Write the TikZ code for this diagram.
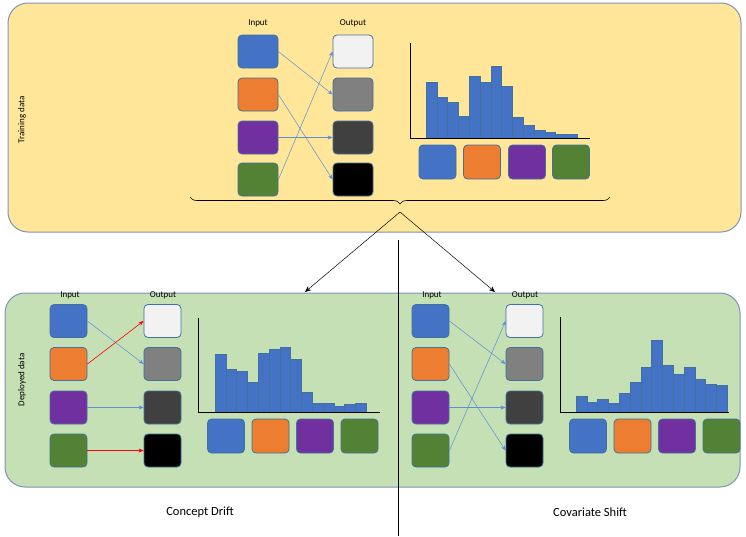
\documentclass[tikz,border=0pt]{standalone}
\usepackage{fontspec}
\setmainfont{Carlito}
\usetikzlibrary{arrows.meta,decorations.pathreplacing}
\definecolor{cblue}{HTML}{4472C4}
\definecolor{corange}{HTML}{ED7D31}
\definecolor{cpurple}{HTML}{7030A0}
\definecolor{cgreen}{HTML}{548235}
\definecolor{cwhite}{HTML}{F2F2F2}
\definecolor{cgray}{HTML}{808080}
\definecolor{cdark}{HTML}{404040}
\definecolor{edgeblue}{HTML}{41719C}
\definecolor{panelyellow}{HTML}{FFE699}
\definecolor{panelgreen}{HTML}{C5E0B4}
\definecolor{panelline}{HTML}{7F93B8}
\definecolor{mapblue}{HTML}{5B8FD8}
\tikzset{
  cell/.style={draw=edgeblue, line width=0.8pt, rounded corners=4pt, minimum width=40pt, minimum height=33pt, inner sep=0pt},
  smallcell/.style={cell, minimum width=37pt},
  catcell/.style={cell, minimum width=37pt, minimum height=34pt},
  panel/.style={draw=panelline, line width=1pt, rounded corners=20pt},
  lbl/.style={font=\fontsize{9}{10}\selectfont},
  map/.style={draw=mapblue, line width=0.5pt, -{Stealth[length=5pt,width=4pt]}},
  redmap/.style={draw=red, line width=0.6pt, -{Stealth[length=5pt,width=4pt]}},
  bar/.style={fill=cblue, draw=edgeblue, line width=0.4pt},
}
% histogram: left x, baseline y, list of bar tops
\newcommand\hist[3]{%
  \foreach \t [count=\i from 0] in {#3}
    \draw[bar] ({#1+\i*10.8},#2) rectangle ({#1+(\i+1)*10.8},\t);
}

\begin{document}
\begin{tikzpicture}[x=1pt,y=-1pt, >={Stealth[length=6pt,width=5pt]}]
\useasboundingbox (0,0) rectangle (746,536);
% panels
\draw[panel, fill=panelyellow] (8,3) rectangle (741,232);
\draw[panel, fill=panelgreen] (5,293) rectangle (740,487);
\draw[line width=0.9pt] (398,240) -- (398,536);
\node[lbl, rotate=90] (train) at (22,120) {Training data};
\node[lbl, rotate=90] (deploy) at (22,380) {Deployed data};
\node[font=\fontsize{12.5}{14}\selectfont] (concept) at (200,512) {Concept Drift};
\node[font=\fontsize{12.5}{14}\selectfont] (covar) at (590,512) {Covariate Shift};

% training data
\node[lbl] (tin) at (258,23) {Input};
\node[lbl] (tout) at (353,23) {Output};
\node[cell, fill=cblue] (ti1) at (258,51.5) {};
\node[cell, fill=corange] (ti2) at (258,94.5) {};
\node[cell, fill=cpurple] (ti3) at (258,137.5) {};
\node[cell, fill=cgreen] (ti4) at (258,179.5) {};
\node[cell, fill=cwhite] (to1) at (353,51.5) {};
\node[cell, fill=cgray] (to2) at (353,94.5) {};
\node[cell, fill=cdark] (to3) at (353,137.5) {};
\node[cell, fill=black] (to4) at (353,179.5) {};
\draw[map] (ti1.east) -- (to2.west);
\draw[map] (ti2.east) -- (to4.west);
\draw[map] (ti3.east) -- (to3.west);
\draw[map] (ti4.east) -- (to1.west);
\hist{426}{138}{82,97,102,116,76,82,66,86,117,125,130,132,134,134}
\draw[line width=0.9pt] (410,43) -- (410,138) -- (590,138);
\node[catcell, fill=cblue] (tc1) at (437.5,162) {};
\node[catcell, fill=corange] (tc2) at (482,162) {};
\node[catcell, fill=cpurple] (tc3) at (527,162) {};
\node[catcell, fill=cgreen] (tc4) at (571,162) {};
\draw[decorate, decoration={brace, mirror, amplitude=7pt, aspect=0.5}, line width=0.6pt] (190,197) -- (610,197);
\coordinate (tip) at (400,212);
\coordinate (left) at (305,292);
\coordinate (right) at (495,292);
\draw[->, line width=0.5pt] (tip) -- (left);
\draw[->, line width=0.5pt] (tip) -- (right);

% concept drift
\node[lbl] (lin) at (70,295) {Input};
\node[lbl] (lout) at (163,295) {Output};
\node[smallcell, fill=cblue] (li1) at (68.5,321) {};
\node[smallcell, fill=corange] (li2) at (68.5,364) {};
\node[smallcell, fill=cpurple] (li3) at (68.5,407.5) {};
\node[smallcell, fill=cgreen] (li4) at (68.5,450.5) {};
\node[smallcell, fill=cwhite] (lo1) at (162.5,321) {};
\node[smallcell, fill=cgray] (lo2) at (162.5,364) {};
\node[smallcell, fill=cdark] (lo3) at (162.5,407.5) {};
\node[smallcell, fill=black] (lo4) at (162.5,450.5) {};
\draw[map] (li1.east) -- (lo2.west);
\draw[redmap] (li2.east) -- (lo1.west);
\draw[map] (li3.east) -- (lo3.west);
\draw[redmap] (li4.east) -- (lo4.west);
\hist{215}{412}{354,369,371,382,353,349,347,359,392,403,403,406,404,403}
\draw[line width=0.9pt] (198,318) -- (198,412) -- (380,412);
\node[catcell, fill=cblue] (lc1) at (226,436) {};
\node[catcell, fill=corange] (lc2) at (270.5,436) {};
\node[catcell, fill=cpurple] (lc3) at (315,436) {};
\node[catcell, fill=cgreen] (lc4) at (359.5,436) {};

% covariate shift
\node[lbl] (rin) at (432,295) {Input};
\node[lbl] (rout) at (525,295) {Output};
\node[smallcell, fill=cblue] (ri1) at (430.5,321) {};
\node[smallcell, fill=corange] (ri2) at (430.5,364) {};
\node[smallcell, fill=cpurple] (ri3) at (430.5,407.5) {};
\node[smallcell, fill=cgreen] (ri4) at (430.5,450.5) {};
\node[smallcell, fill=cwhite] (ro1) at (524.5,321) {};
\node[smallcell, fill=cgray] (ro2) at (524.5,364) {};
\node[smallcell, fill=cdark] (ro3) at (524.5,407.5) {};
\node[smallcell, fill=black] (ro4) at (524.5,450.5) {};
\draw[map] (ri1.east) -- (ro2.west);
\draw[map] (ri2.east) -- (ro4.west);
\draw[map] (ri3.east) -- (ro3.west);
\draw[map] (ri4.east) -- (ro1.west);
\hist{576}{412}{396,402,399,403,393,382,367,340,365,374,367,379,384,385}
\draw[line width=0.9pt] (560,317) -- (560,412) -- (729,412);
\node[catcell, fill=cblue] (rc1) at (588,436) {};
\node[catcell, fill=corange] (rc2) at (632.5,436) {};
\node[catcell, fill=cpurple] (rc3) at (677,436) {};
\node[catcell, fill=cgreen] (rc4) at (721.5,436) {};
\end{tikzpicture}
\end{document}
